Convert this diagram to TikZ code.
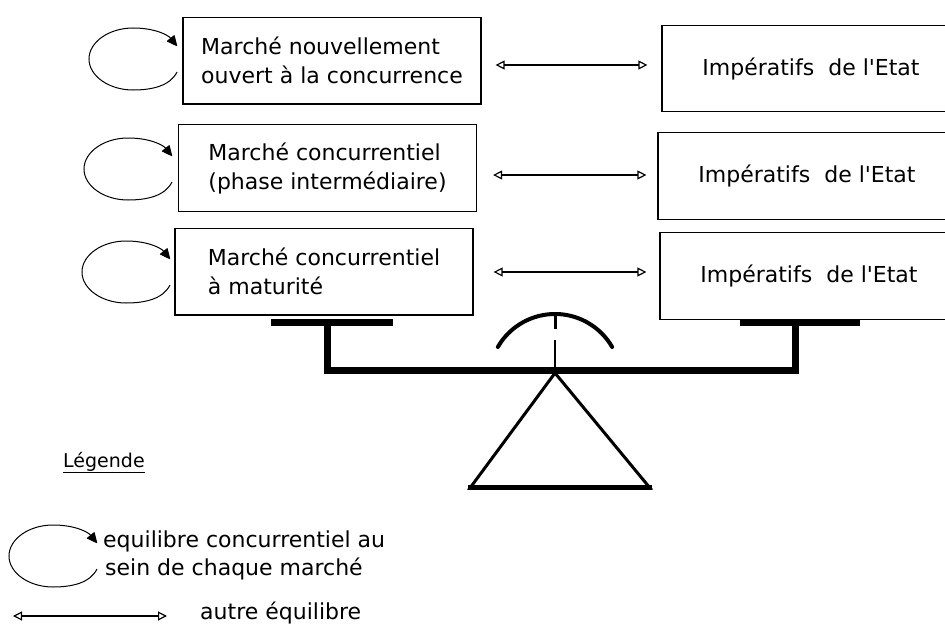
\documentclass[tikz,border=0pt]{standalone}
\usepackage{fontspec}
\setmainfont{DejaVu Sans}[Ligatures=TeXOff]
\usetikzlibrary{arrows.meta,calc}
\begin{document}
\begin{tikzpicture}[x=1pt,y=-1pt,
  box/.style={draw, line width=1.2pt, minimum width=298pt, minimum height=86.5pt, inner sep=0pt, font=\fontsize{22}{29}\selectfont, align=left},
  lbl/.style={font=\fontsize{22}{29}\selectfont, inner sep=0pt, anchor=base west},
  dbl/.style={line width=1.2pt, {Triangle[open,length=9pt,width=9pt,line width=1.2pt]}-{Triangle[open,length=9pt,width=9pt,line width=1.2pt]}},
  looparrow/.style={line width=1pt, -{Triangle[length=11pt,width=10pt,round]}},
  heavy/.style={line width=7pt},
  selfloop/.pic={\draw[looparrow] (44,13) .. controls (37,27) and (19,31) .. (0,31) .. controls (-24,31) and (-44,17) .. (-44,0) .. controls (-44,-17) and (-24,-31) .. (0,-31) .. controls (22,-31) and (35,-24) .. (44,-13);}]
\useasboundingbox (0,0) rectangle (945,626);
\clip (0,0) rectangle (945,626);
% market boxes
\node[box] (m1) at (332,60.75) {Marché nouvellement\\ouvert à la concurrence};
\node[box] (m2) at (327.5,168) {Marché concurrentiel\\(phase intermédiaire)};
\node[box] (m3) at (324,271.75) {Marché concurrentiel\\à maturité};
% state boxes
\node[box] (i1) at (811,68.5) {Impératifs\ \ de l'Etat};
\node[box] (i2) at (807,176) {Impératifs\ \ de l'Etat};
\node[box] (i3) at (809,276) {Impératifs\ \ de l'Etat};
% self loops
\pic at (133,59) {selfloop};
\pic at (128,169) {selfloop};
\pic at (126,272) {selfloop};
% double arrows
\draw[dbl] ($(m1.east)+(14,4.25)$) -- ($(i1.west)+(-14,-3.5)$);
\draw[dbl] ($(m2.east)+(16,7)$) -- ($(i2.west)+(-11,-1)$);
\draw[dbl] ($(m3.east)+(20,0.25)$) -- ($(i3.west)+(-13,-4)$);
% balance
\draw[heavy] (271,322) -- (393,322);
\draw[heavy] (740,322) -- (860,322);
\draw[heavy, line join=miter] (327,322) -- (327,370) -- (795,370) -- (795,322);
\draw[line width=4pt, line cap=round] (555,380) ++(210:66) arc[start angle=210, end angle=330, radius=66];
\draw[line width=3pt] (555,313) -- (555,329);
\draw[line width=1.2pt] (555,340) -- (555,370);
\draw[line width=3pt, line join=miter] (555,373) -- (650,488) -- (470,488) -- cycle;
\draw[line width=5pt] (468,487) -- (652,487);
% legend
\node[lbl, font=\fontsize{19}{24}\selectfont] (leg) at (63,467) {\underline{Légende}};
\pic at (53,556) {selfloop};
\node[lbl] (l1) at (103,547) {equilibre concurrentiel au};
\node[lbl] (l2) at (105,575) {sein de chaque marché};
\coordinate (la) at (13,616);
\coordinate (lb) at (167,616);
\draw[dbl] (la) -- (lb);
\node[lbl] (l3) at (200,619) {autre équilibre};
\end{tikzpicture}
\end{document}
